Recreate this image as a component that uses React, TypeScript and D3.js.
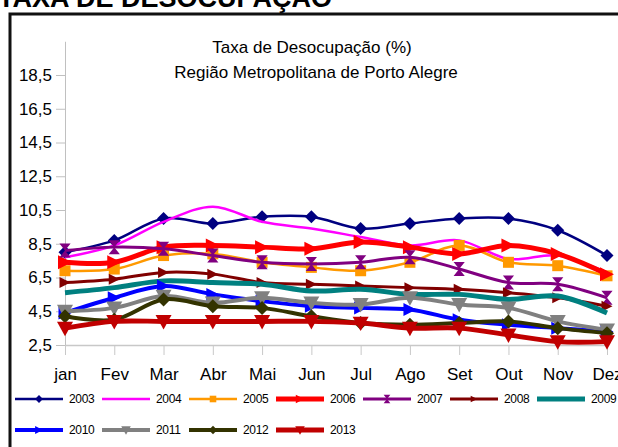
import React, { useRef, useEffect } from 'react';
import * as d3 from 'd3';

const months = ['jan', 'Fev', 'Mar', 'Abr', 'Mai', 'Jun', 'Jul', 'Ago', 'Set', 'Out', 'Nov', 'Dez'];
const yTicks = [2.5, 4.5, 6.5, 8.5, 10.5, 12.5, 14.5, 16.5, 18.5];
const years = ['2003', '2004', '2005', '2006', '2007', '2008', '2009', '2010', '2011', '2012', '2013'];

const v2003 = [8.0, 8.7, 10.0, 9.7, 10.1, 10.1, 9.4, 9.7, 10.0, 10.0, 9.3, 7.8];
const v2004 = [7.7, 8.4, 9.8, 10.7, 9.8, 9.4, 8.9, 8.4, 8.7, 7.6, 7.8, 6.8];
const v2005 = [6.9, 7.0, 7.8, 7.9, 7.4, 7.1, 6.9, 7.4, 8.4, 7.4, 7.2, 6.6];
const v2006 = [7.4, 7.4, 8.3, 8.4, 8.3, 8.2, 8.6, 8.3, 7.9, 8.4, 7.9, 6.7];
const v2007 = [8.1, 8.3, 8.2, 7.8, 7.4, 7.3, 7.4, 7.7, 7.0, 6.2, 6.1, 5.3];
const v2008 = [6.2, 6.4, 6.8, 6.7, 6.2, 6.1, 6.0, 5.9, 5.8, 5.6, 5.3, 4.8];
const v2009 = [5.6, 5.9, 6.3, 6.2, 6.1, 5.7, 5.8, 5.5, 5.5, 5.2, 5.4, 4.4];
const v2010 = [4.4, 5.3, 6.0, 5.5, 5.1, 4.8, 4.7, 4.6, 4.0, 3.7, 3.5, 3.3];
const v2011 = [4.5, 4.7, 5.4, 5.0, 5.3, 5.0, 4.9, 5.3, 4.9, 4.7, 3.9, 3.4];
const v2012 = [4.2, 4.0, 5.2, 4.8, 4.7, 4.2, 3.8, 3.7, 3.8, 3.9, 3.5, 3.2];
const v2013 = [3.5, 3.9, 3.9, 3.9, 3.9, 3.9, 3.8, 3.5, 3.5, 3.1, 2.7, 2.7];

const seriesValues = [v2003, v2004, v2005, v2006, v2007, v2008, v2009, v2010, v2011, v2012, v2013];

// line look for each year, same order as years
const looks = [
  { color: '#000080', width: 2.5, marker: 'diamond', size: 6.5 },
  { color: '#ff00ff', width: 2.5, marker: 'none', size: 0 },
  { color: '#ff9900', width: 2.5, marker: 'square', size: 5.5 },
  { color: '#ff0000', width: 5, marker: 'triRight', size: 7 },
  { color: '#800080', width: 3, marker: 'hourglass', size: 7 },
  { color: '#800000', width: 3, marker: 'triRight', size: 5.5 },
  { color: '#008080', width: 5, marker: 'none', size: 0 },
  { color: '#0000ff', width: 4, marker: 'triRight', size: 6.5 },
  { color: '#808080', width: 4, marker: 'triDown', size: 8 },
  { color: '#333300', width: 4, marker: 'diamond', size: 7 },
  { color: '#c00000', width: 5, marker: 'triDown', size: 8 },
];

const FONT = "'Liberation Sans', Arial, sans-serif";

function markerPath(type: string, s: number) {
  switch (type) {
    case 'diamond':
      return `M0,${-s}L${s},0L0,${s}L${-s},0Z`;
    case 'square':
      return `M${-s},${-s}H${s}V${s}H${-s}Z`;
    case 'triRight':
      return `M${-s},${-s}L${s},0L${-s},${s}Z`;
    case 'triDown':
      return `M${-s},${-s * 0.8}L${s},${-s * 0.8}L0,${s}Z`;
    case 'hourglass':
      return `M${-s * 0.8},${-s}H${s * 0.8}L0,0Z M${-s * 0.8},${s}H${s * 0.8}L0,0Z`;
    default:
      return '';
  }
}

function App() {
  const chartRef = useRef<SVGSVGElement>(null);

  useEffect(() => {
    drawChart();
  }, []);

  const drawChart = () => {
    const svg = d3.select(chartRef.current);
    svg.selectAll('*').remove();

    const x = d3.scalePoint<string>().domain(months).range([65, 607]);
    const y = d3.scaleLinear().domain([2.5, 20.5]).range([345, 41.25]);

    // cut-off page heading
    svg
      .append('text')
      .attr('x', -2)
      .attr('y', 7)
      .attr('font-family', FONT)
      .attr('font-size', 27)
      .attr('font-weight', 'bold')
      .text('TAXA DE DESOCUPAÇÃO');

    // frame
    svg
      .append('rect')
      .attr('x', 10)
      .attr('y', 14)
      .attr('width', 640)
      .attr('height', 460)
      .attr('fill', 'none')
      .attr('stroke', '#111')
      .attr('stroke-width', 3);

    // titles
    svg
      .append('text')
      .attr('x', 312)
      .attr('y', 53)
      .attr('text-anchor', 'middle')
      .attr('font-family', FONT)
      .attr('font-size', 17)
      .text('Taxa de Desocupação (%)');
    svg
      .append('text')
      .attr('x', 316)
      .attr('y', 78)
      .attr('text-anchor', 'middle')
      .attr('font-family', FONT)
      .attr('font-size', 17)
      .text('Região Metropolitana de Porto Alegre');

    // y axis
    const yAxis = svg
      .append('g')
      .attr('transform', 'translate(65,0)')
      .call(
        d3
          .axisLeft(y)
          .tickValues(yTicks)
          .tickSize(9)
          .tickSizeOuter(0)
          .tickPadding(4)
          .tickFormat((d) => d3.format('.1f')(d as number).replace('.', ','))
      );
    yAxis.select('.domain').attr('stroke', '#c0c0c0');
    yAxis.selectAll('.tick line').attr('stroke', '#c0c0c0');
    yAxis.selectAll('text').attr('font-family', FONT).attr('font-size', 17).attr('fill', '#000');

    // x axis
    const xAxis = svg
      .append('g')
      .attr('transform', `translate(0,${y(2.5)})`)
      .call(d3.axisBottom(x).tickSize(10).tickSizeOuter(0).tickPadding(13));
    xAxis.select('.domain').attr('stroke', '#c8c8c8').attr('stroke-width', 1.5);
    xAxis.selectAll('.tick line').attr('stroke', '#c8c8c8');
    xAxis.selectAll('text').attr('font-family', FONT).attr('font-size', 17).attr('fill', '#000');

    const line = d3
      .line<number>()
      .x((d, i) => x(months[i]) as number)
      .y((d) => y(d))
      .curve(d3.curveCardinal.tension(0));

    // series, 2013 drawn last (on top)
    seriesValues.forEach((vals, si) => {
      const look = looks[si];
      const g = svg.append('g');
      g.append('path')
        .datum(vals)
        .attr('d', line)
        .attr('fill', 'none')
        .attr('stroke', look.color)
        .attr('stroke-width', look.width)
        .attr('stroke-linejoin', 'round');
      if (look.marker !== 'none') {
        g.selectAll('path.mk')
          .data(vals)
          .enter()
          .append('path')
          .attr('class', 'mk')
          .attr('transform', (d, i) => `translate(${x(months[i])},${y(d)})`)
          .attr('d', markerPath(look.marker, look.size))
          .attr('fill', look.color);
      }
    });

    // legend
    const legend = svg
      .append('g')
      .attr('font-family', FONT)
      .attr('font-size', 12)
      .attr('letter-spacing', -0.3);
    years.forEach((yr, i) => {
      const look = looks[i];
      const row = i < 7 ? 0 : 1;
      const col = i < 7 ? i : i - 7;
      const lx = 15 + col * 87;
      const ly = row === 0 ? 399 : 430;
      const item = legend.append('g').attr('transform', `translate(${lx},${ly})`);
      item
        .append('line')
        .attr('x1', 0)
        .attr('x2', 48)
        .attr('stroke', look.color)
        .attr('stroke-width', look.width);
      if (look.marker !== 'none') {
        item
          .append('path')
          .attr('transform', 'translate(24,0)')
          .attr('d', markerPath(look.marker, look.size * 0.6))
          .attr('fill', look.color);
      }
      item
        .append('text')
        .attr('x', 54)
        .attr('dy', '0.36em')
        .attr('fill', '#000')
        .text(yr);
    });
  };

  return (
    <svg
      ref={chartRef}
      width={618}
      height={447}
      style={{ position: 'absolute', left: 0, top: 0, background: '#fff' }}
    />
  );
}

export default App;
